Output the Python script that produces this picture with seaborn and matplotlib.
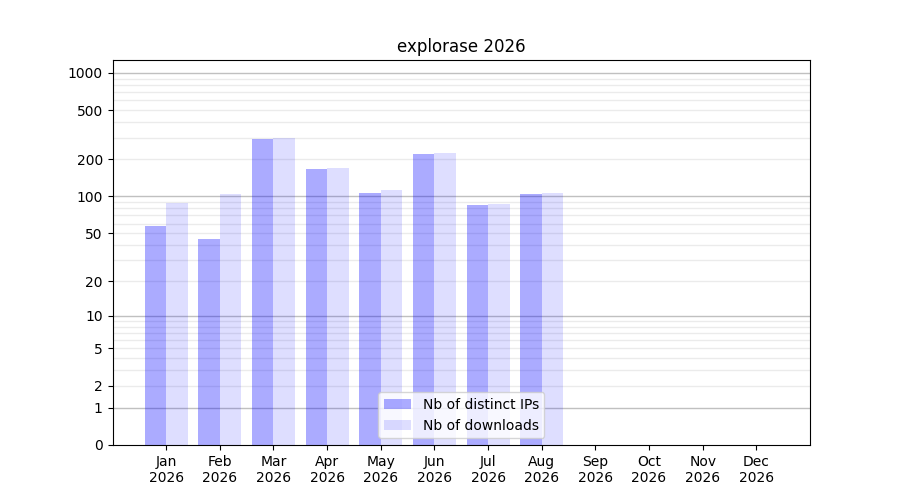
import matplotlib
matplotlib.use("Agg")
import matplotlib.pyplot as plt
import seaborn as sns
import numpy as np
import pandas as pd
from matplotlib.ticker import FixedLocator, FixedFormatter, NullLocator

title = "explorase 2026"
months = ["Jan", "Feb", "Mar", "Apr", "May", "Jun", "Jul", "Aug", "Sep", "Oct", "Nov", "Dec"]
year = "2026"
data_months = ["Jan", "Feb", "Mar", "Apr", "May", "Jun", "Jul", "Aug"]
distinct_ips = [57, 45, 294, 168, 107, 221, 85, 105]
downloads = [89, 105, 300, 170, 113, 225, 87, 107]
series_names = ["Nb of distinct IPs", "Nb of downloads"]
series_alpha = [0.33, 0.13]
ytick_values = [0, 1, 2, 5, 10, 20, 50, 100, 200, 500, 1000]
major_grid = [1, 10, 100, 1000]
minor_grid = [2, 3, 4, 5, 6, 7, 8, 9, 20, 30, 40, 50, 60, 70, 80, 90,
              200, 300, 400, 500, 600, 700, 800, 900]
ymax = 1270

df = pd.DataFrame({
    "month": data_months * 2,
    "value": distinct_ips + downloads,
    "series": [series_names[0]] * len(data_months) + [series_names[1]] * len(data_months),
})

fig, ax = plt.subplots(figsize=(9, 5), dpi=100)

def fwd(x):
    x = np.asarray(x, dtype=float)
    return np.log10(1 + np.clip(x, 0, None))

def inv(y):
    y = np.asarray(y, dtype=float)
    return 10 ** y - 1

ax.set_yscale("function", functions=(fwd, inv))

for g in minor_grid:
    ax.axhline(g, color="#ebebeb", lw=1, zorder=0)
for g in major_grid:
    ax.axhline(g, color="#c0c0c0", lw=1, zorder=0)

sns.barplot(data=df, x="month", y="value", hue="series", order=months,
            hue_order=series_names, palette=["#0000ff", "#0000ff"],
            saturation=1, legend=False, ax=ax, zorder=2)

for cont, a in zip(ax.containers, series_alpha):
    for p in cont.patches:
        p.set_alpha(a)
        p.set_edgecolor("none")

ax.set_xlim(-1, len(months))
ax.set_ylim(0, ymax)
ax.yaxis.set_major_locator(FixedLocator(ytick_values))
ax.yaxis.set_major_formatter(FixedFormatter([str(v) for v in ytick_values]))
ax.yaxis.set_minor_locator(NullLocator())
ax.set_xticks(range(len(months)))
ax.set_xticklabels([f"{m}\n{year}" for m in months])
ax.set_xlabel("")
ax.set_ylabel("")
ax.set_title(title)

ax.legend(handles=[ax.containers[0], ax.containers[1]], labels=series_names,
          loc="lower center")

fig.savefig("out.png", dpi=100)
